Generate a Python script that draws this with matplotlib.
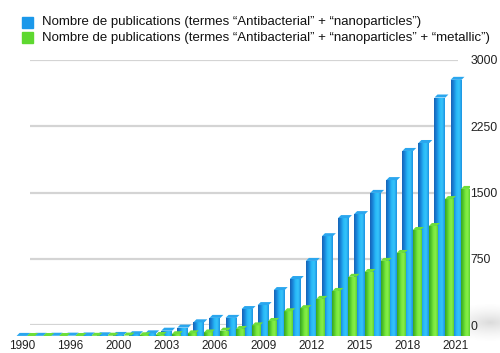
import numpy as np
import matplotlib
matplotlib.use("Agg")
import matplotlib.pyplot as plt
from matplotlib.colors import LinearSegmentedColormap
from matplotlib.patches import Rectangle, Polygon
from matplotlib.transforms import IdentityTransform

# Publications per year
years = ["1990", "1992", "1994", "1996", "1998", "1999", "2000", "2001", "2002",
         "2003", "2004", "2005", "2006", "2007", "2008", "2009", "2010", "2011",
         "2012", "2013", "2014", "2015", "2016", "2017", "2018", "2019", "2020",
         "2021"]
antibact_nano = [1, 2, 3, 4, 6, 8, 12, 20, 30,
                 60, 95, 155, 205, 205, 305, 350, 520, 645,
                 850, 1130, 1335, 1380, 1620, 1765, 2095, 2185, 2700,
                 2900]
antibact_nano_metal = [0, 0, 0, 0, 2, 3, 5, 8, 12,
                       20, 30, 40, 60, 80, 120, 170, 280, 315,
                       420, 510, 670, 725, 850, 940, 1200, 1245, 1550,
                       1665]
label_blue = "Nombre de publications (termes “Antibacterial” + “nanoparticles”)"
label_green = "Nombre de publications (termes “Antibacterial” + “nanoparticles” + “metallic”)"
y_ticks = [0, 750, 1500, 2250, 3000]

FONT = ["Liberation Sans", "DejaVu Sans"]
plt.rcParams["font.family"] = FONT

W, H = 500, 353
fig = plt.figure(figsize=(W / 100, H / 100), dpi=100)


def px_axes(left, top, right, bottom):
    return fig.add_axes([left / W, 1 - bottom / H, (right - left) / W, (bottom - top) / H])


# soft floor shadow on the right
sh = px_axes(400, 280, 500, 353)
sh.set_axis_off()
yy, xx = np.mgrid[0:73, 0:100]
d = np.sqrt(((xx - 90) / 50.0) ** 2 + ((yy - 42) / 20.0) ** 2)
alpha = np.clip(1 - d, 0, 1) ** 1.5 * 0.28
shadow = np.zeros((73, 100, 4))
shadow[..., :3] = 0.5
shadow[..., 3] = alpha
sh.imshow(shadow, extent=[0, 1, 0, 1], aspect="auto", interpolation="bilinear")

# back wall with gridlines and value labels
wall = px_axes(30, 60, 458, 325)
wall.set_ylim(0, 3000)
wall.set_yticks(y_ticks)
wall.set_yticklabels([str(v) for v in y_ticks])
wall.yaxis.tick_right()
wall.set_xticks([])
wall.grid(axis="y", color="#d4d4d4", lw=1.6)
wall.tick_params(axis="y", length=0, pad=9, labelsize=8.8, labelcolor="#222222")
for s in wall.spines.values():
    s.set_visible(False)
wall.patch.set_alpha(0)

# bars
ax = px_axes(10, 71, 470, 336)
ax.patch.set_alpha(0)
idx = np.arange(len(years))
bw_blue, bw_green, off = 0.68, 0.50, 0.56
blue_c = ax.bar(idx, antibact_nano, width=bw_blue, color="#1b8fe0", zorder=2)
green_c = ax.bar(idx + off, antibact_nano_metal, width=bw_green, color="#62d834", zorder=3)

ax.set_xlim(-0.75, 27.87)
ax.set_ylim(0, 3000)

cmap_blue = LinearSegmentedColormap.from_list(
    "b", ["#1763b5", "#1a86da", "#27b8f7", "#35c4fa", "#1b92e2"])
cmap_green = LinearSegmentedColormap.from_list(
    "g", ["#3aa422", "#52c82c", "#7ae83e", "#86ee48", "#5cd030"])
grad = np.linspace(0, 1, 64).reshape(1, -1)
caps = {id(blue_c): ("#2aa6ee", 2.6), id(green_c): ("#6ede3a", 3.6)}
for cont, cmap, z in ((blue_c, cmap_blue, 2.5), (green_c, cmap_green, 3.5)):
    cap_col, cz = caps[id(cont)]
    for rect in cont:
        x0, w, h = rect.get_x(), rect.get_width(), rect.get_height()
        if h > 0:
            im = ax.imshow(grad, extent=[x0, x0 + w, 0, h], aspect="auto",
                           cmap=cmap, zorder=z, interpolation="bilinear")
            im.set_clip_path(rect)
        # slanted top face of each bar
        (ax0, ay0) = ax.transData.transform((x0, h))
        (ax1, _) = ax.transData.transform((x0 + w, h))
        face = Polygon([(ax0, ay0), (ax1, ay0), (ax1 + 3, ay0 + 3), (ax0 + 3, ay0 + 3)],
                       closed=True, transform=IdentityTransform(),
                       facecolor=cap_col, edgecolor="none", zorder=cz)
        ax.add_artist(face)

ax.set_xlim(-0.75, 27.87)
ax.set_ylim(0, 3000)
ax.set_yticks([])
ax.set_xticks(idx[::3])
ax.set_xticklabels(years[::3])
ax.tick_params(axis="x", length=0, pad=3, labelsize=8.5, labelcolor="#222222")
for s in ax.spines.values():
    s.set_visible(False)

# legend
for (y0, col, txt) in ((17, "#1b98ea", label_blue), (32, "#5ed830", label_green)):
    fig.add_artist(Rectangle((22 / W, 1 - (y0 + 11) / H), 11 / W, 11 / H,
                             transform=fig.transFigure, color=col))
    fig.text(42 / W, 1 - (y0 + 5.5) / H, txt, fontsize=9.5, va="center",
             ha="left", color="#111111")

fig.savefig("out.png", dpi=100)
